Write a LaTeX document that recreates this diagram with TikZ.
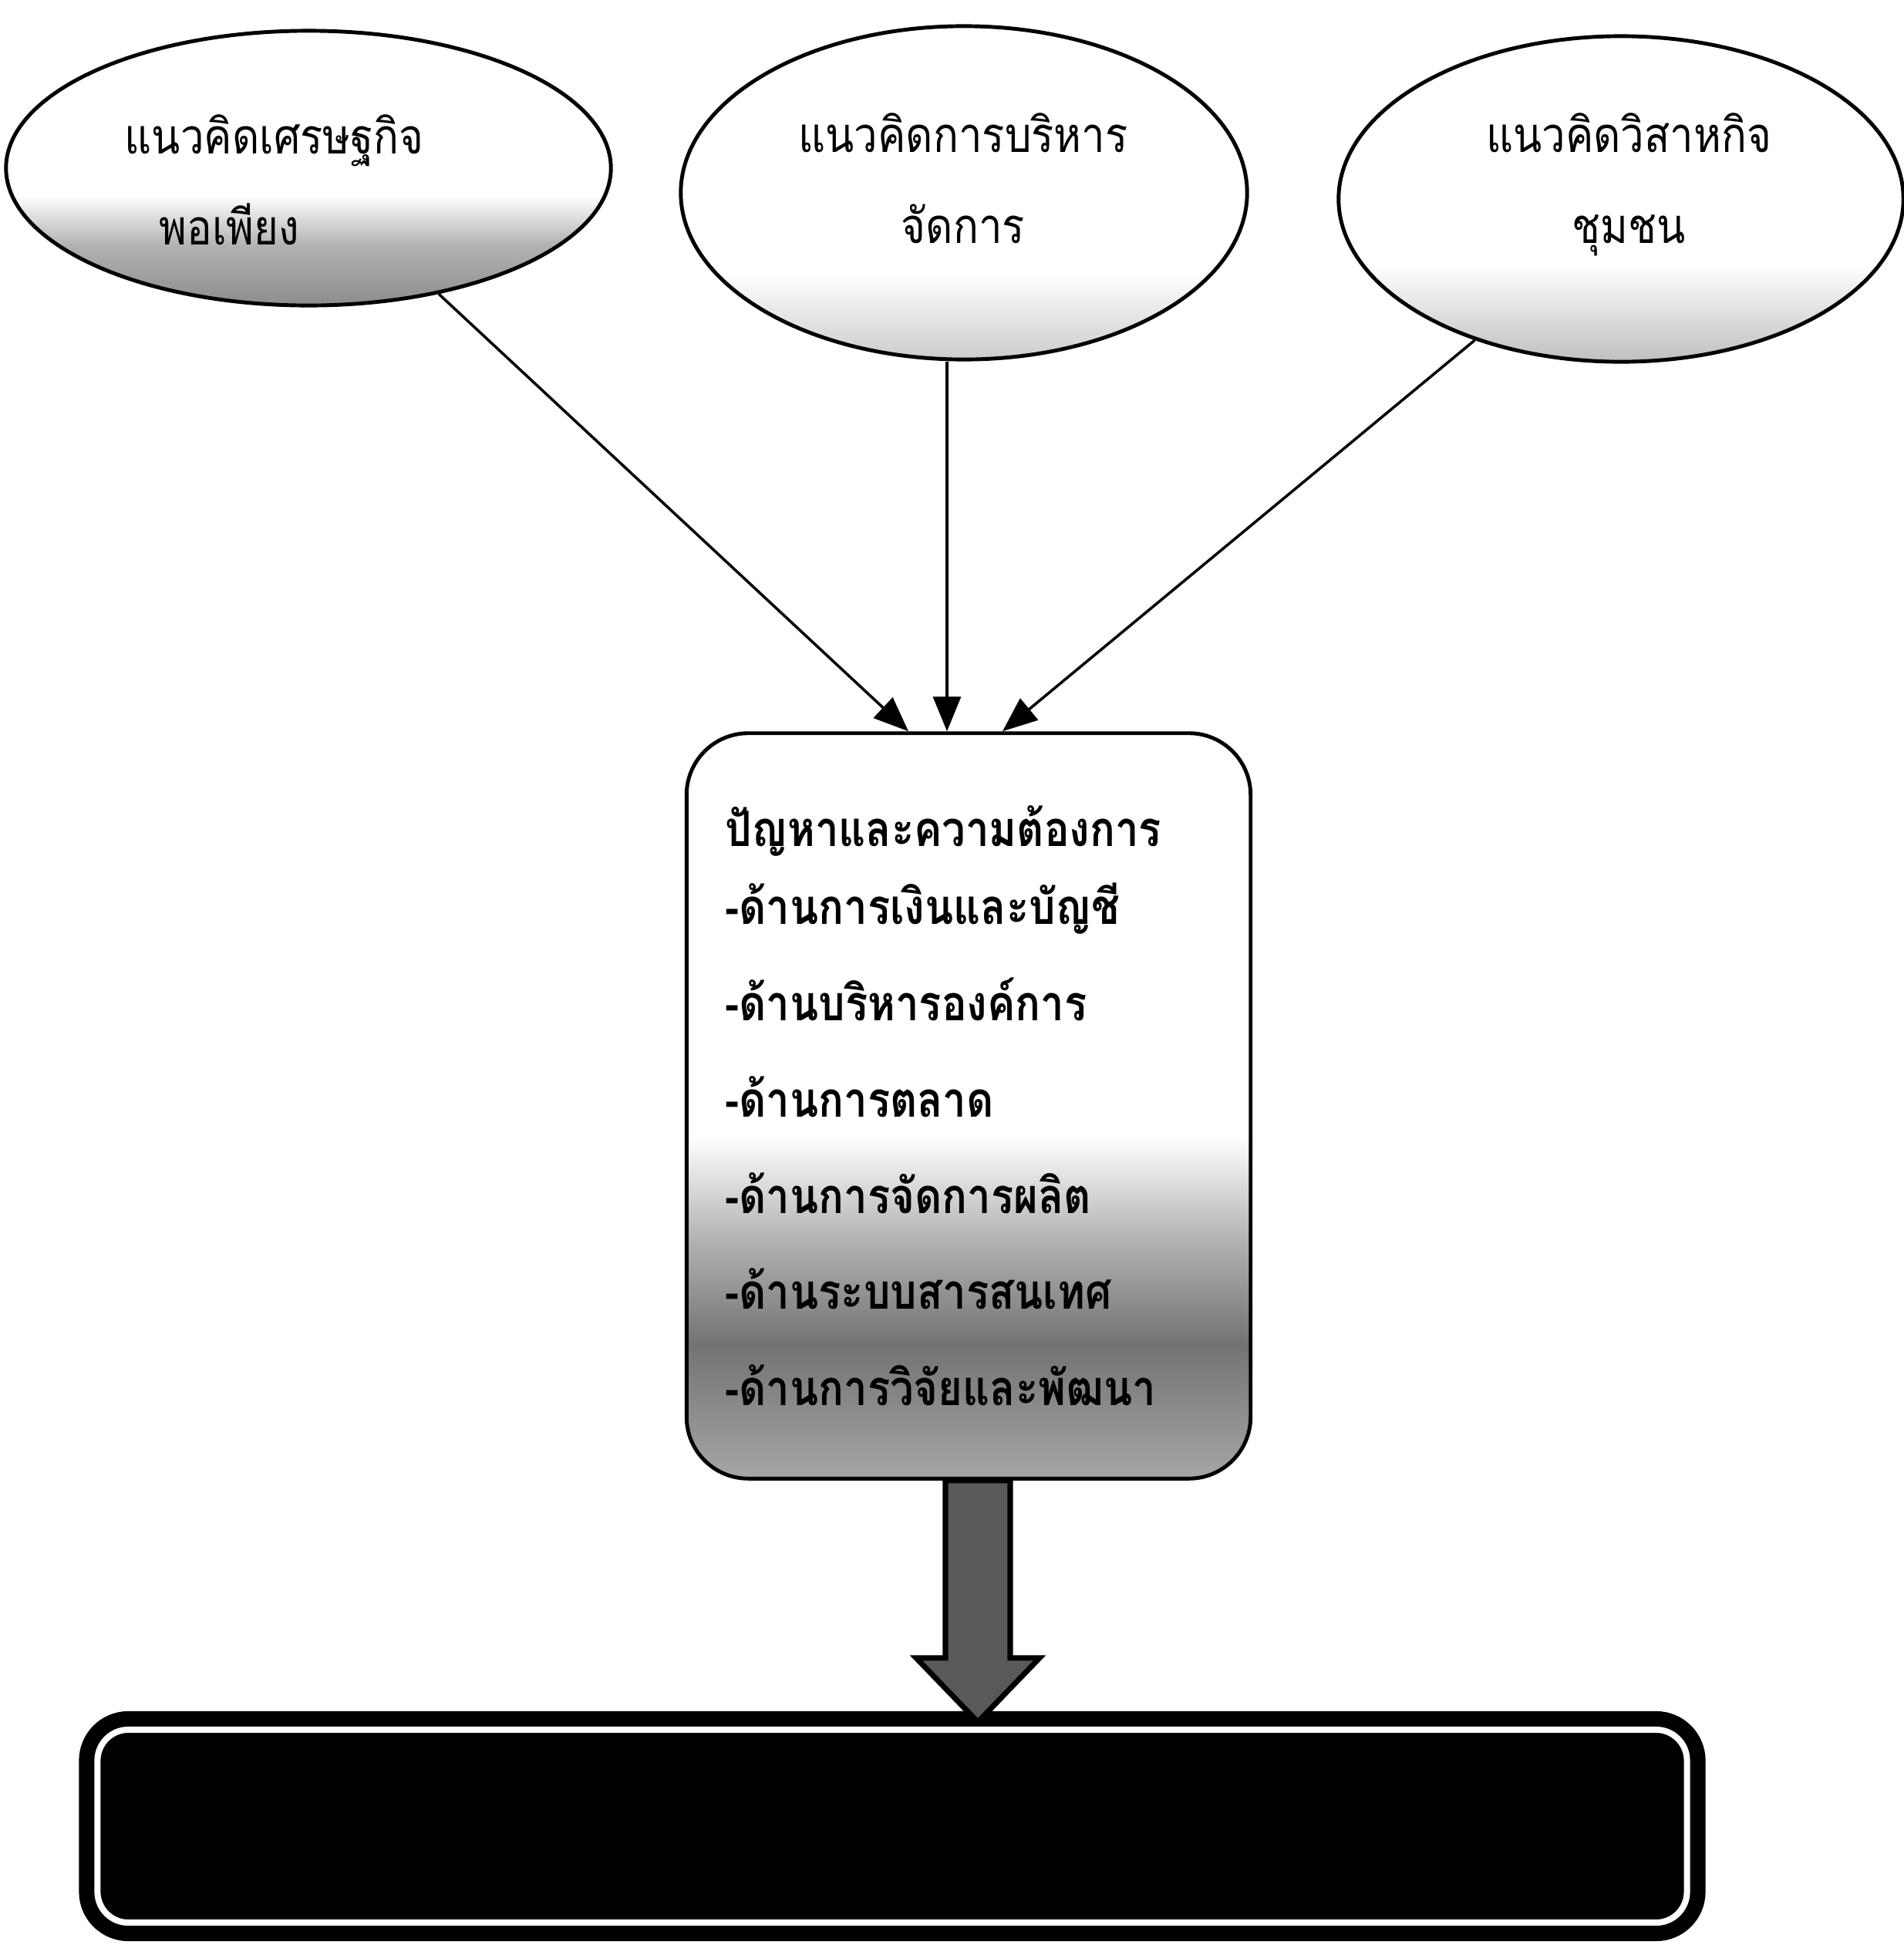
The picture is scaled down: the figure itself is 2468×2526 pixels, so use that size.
\documentclass[tikz,border=0pt]{standalone}
\usepackage{fontspec}
\newfontfamily\thai[Script=Thai, FakeStretch=0.86]{Loma}
\usetikzlibrary{shapes.geometric, arrows.meta, calc}
\pgfdeclareverticalshading{econfade}{100bp}{color(0bp)=(black!45); color(25bp)=(black!45); color(36bp)=(black!30); color(45bp)=(white); color(100bp)=(white)}
\pgfdeclareverticalshading{mgmtfade}{100bp}{color(0bp)=(black!20); color(25bp)=(black!20); color(38bp)=(white); color(100bp)=(white)}
\pgfdeclareverticalshading{commfade}{100bp}{color(0bp)=(black!25); color(25bp)=(black!25); color(40bp)=(white); color(100bp)=(white)}
\pgfdeclareverticalshading{needfade}{100bp}{color(0bp)=(black!35); color(25bp)=(black!35); color(34bp)=(black!55); color(41bp)=(black!30); color(48bp)=(white); color(100bp)=(white)}
\begin{document}
\begin{tikzpicture}[x = 0.01cm, y = -0.01cm,
		idea/.style = {ellipse, draw, line width = 1.4pt, shade, inner sep = 0pt},
		ideatext/.style = {inner sep = 0pt, font = \thai\fontsize{18}{33.5}\selectfont},
		need/.style = {rectangle, draw, line width = 1.4pt, rounded corners = 0.8cm, shade, shading = needfade,
			minimum width = 7.31cm, minimum height = 9.66cm, text width = 6.31cm, inner xsep = 0.5cm,
			align = left, font = \thai\bfseries\fontsize{18}{35.5}\selectfont},
		result/.style = {rectangle, draw = black, fill = black, line width = 0.2cm, double = white,
			double distance = 0.08cm, rounded corners = 0.4cm, minimum width = 20.6cm, minimum height = 2.5cm},
		feed/.style = {-{Triangle[length = 0.45cm, width = 0.36cm]}, line width = 1pt},
		bigarrow/.style = {draw, line width = 2pt, fill = black!65, line join = miter}
	]
	\useasboundingbox (0,0) rectangle (2468,2526);

	\node[idea, shading = econfade, minimum width = 7.84cm, minimum height = 3.56cm] (econ) at (400,218) {};
	\node[idea, shading = mgmtfade, minimum width = 7.34cm, minimum height = 4.32cm] (mgmt) at (1250,250) {};
	\node[idea, shading = commfade, minimum width = 7.32cm, minimum height = 4.22cm] (comm) at (2102,258) {};

	\node[ideatext, anchor = west, align = left] (econ-t) at (161,233) {แนวคิดเศรษฐกิจ\\\hspace*{0.45cm}พอเพียง};
	\node[ideatext, align = center] (mgmt-t) at (1249,231) {แนวคิดการบริหาร\\จัดการ};
	\node[ideatext, align = center] (comm-t) at (2112,239) {แนวคิดวิสาหกิจ\\ชุมชน};

	\node[need] (needs) at (1256,1434) {ปัญหาและความต้องการ\\[-0.24cm]-ด้านการเงินและบัญชี\\-ด้านบริหารองค์การ\\-ด้านการตลาด\\-ด้านการจัดการผลิต\\-ด้านระบบสารสนเทศ\\-ด้านการวิจัยและพัฒนา};

	\node[result] (report) at (1157,2368) {};

	\coordinate (in1) at ($(needs.north) + (-78,0)$);
	\coordinate (in2) at ($(needs.north) + (-28,0)$);
	\coordinate (in3) at ($(needs.north) + (44,0)$);
	\draw[feed] (econ.316) -- (in1);
	\draw[feed] (mgmt.south -| in2) -- (in2);
	\draw[feed] (comm.224) -- (in3);

	\coordinate (root) at ($(needs.south) + (12,0)$);
	\coordinate (tip) at ($(needs.south |- report.north) + (12,0)$);
	\draw[bigarrow] ($(root) + (-42,0)$) -- ($(tip) + (-42,-83)$) -- ($(tip) + (-80,-83)$) -- (tip)
		-- ($(tip) + (80,-83)$) -- ($(tip) + (42,-83)$) -- ($(root) + (42,0)$) -- cycle;
\end{tikzpicture}
\end{document}
